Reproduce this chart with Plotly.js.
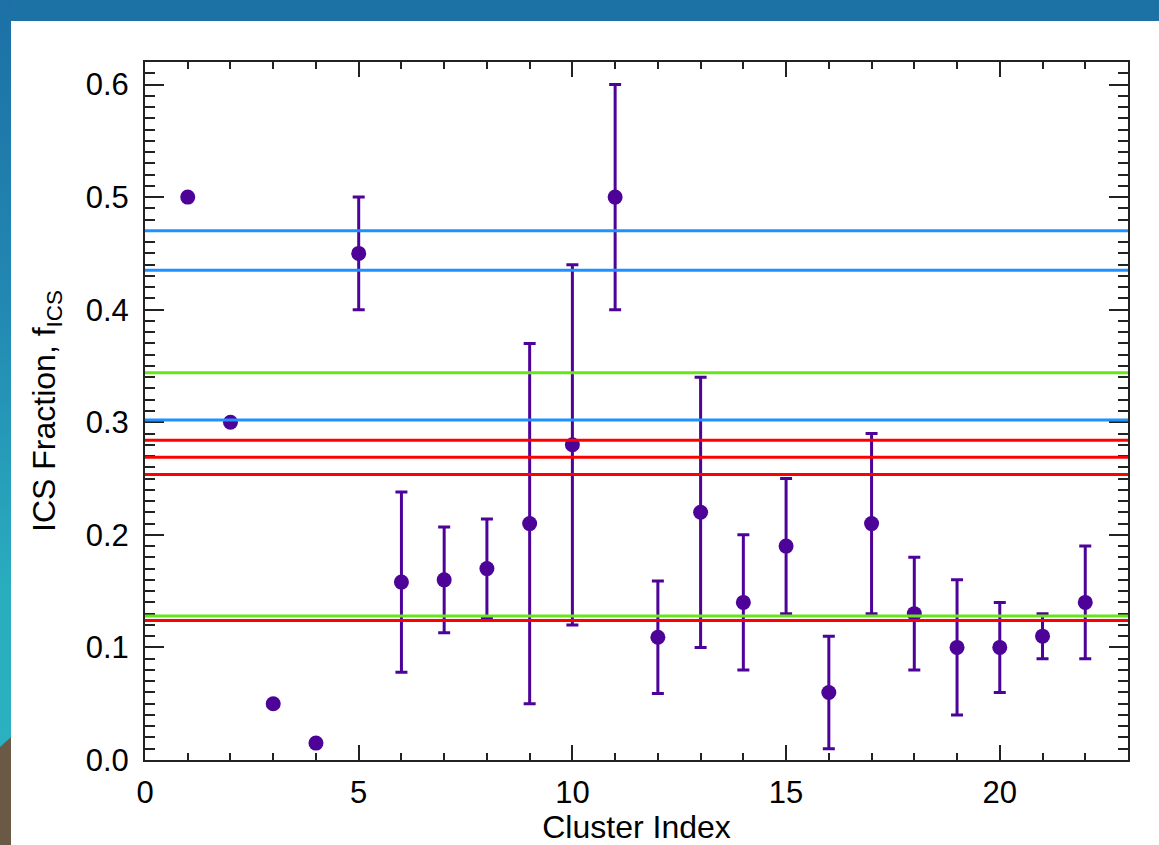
<!DOCTYPE html>
<html>
<head>
<meta charset="utf-8">
<script src="https://cdn.plot.ly/plotly-3.0.1.min.js"></script>
<style>
  html, body { margin:0; padding:0; width:1159px; height:845px; overflow:hidden; background:#ffffff; }
  #topband { position:absolute; left:0; top:0; width:1159px; height:21px; background:#1c71a5; }
  #leftband { position:absolute; left:0; top:0; width:11px; height:845px;
    background: linear-gradient(to bottom, #1c70a5 0px, #2288b2 300px, #2aaebf 600px, #2bb2c1 845px); }
  #brown { position:absolute; left:0; top:730px; width:11px; height:115px; background:#6a5a45;
    clip-path: polygon(0px 17px, 11px 7px, 11px 115px, 0px 115px); }
  #chart { position:absolute; left:0; top:0; width:1159px; height:845px; }
</style>
</head>
<body>
<div id="topband"></div>
<div id="leftband"></div>
<div id="brown"></div>
<div id="chart"></div>
<script>
// Cluster data
const clusterIndex = [1,2,3,4,5,6,7,8,9,10,11,12,13,14,15,16,17,18,19,20,21,22];
const icsFraction  = [0.50,0.30,0.05,0.015,0.45,0.158,0.16,0.17,0.21,0.28,0.50,0.109,0.22,0.14,0.19,0.06,0.21,0.13,0.10,0.10,0.11,0.14];
const upperBound   = [0.50,0.30,0.05,0.015,0.50,0.238,0.207,0.214,0.37,0.44,0.60,0.159,0.34,0.20,0.25,0.11,0.29,0.18,0.16,0.14,0.13,0.19];
const lowerBound   = [0.50,0.30,0.05,0.015,0.40,0.078,0.113,0.126,0.05,0.12,0.40,0.059,0.10,0.08,0.13,0.01,0.13,0.08,0.04,0.06,0.09,0.09];

// Horizontal reference levels
const blueLevels  = [0.470, 0.435, 0.302];
const greenLevels = [0.344, 0.128];
const redLevels   = [0.284, 0.269, 0.2535, 0.124];

const xTickVals = [0,5,10,15,20];
const yTickVals = [0.0,0.1,0.2,0.3,0.4,0.5,0.6];
const yTickText = ['0.0','0.1','0.2','0.3','0.4','0.5','0.6'];

const purple = '#4e0398';
const errUp = icsFraction.map((v,i) => upperBound[i] - v);
const errDn = icsFraction.map((v,i) => v - lowerBound[i]);

const trace = {
  x: clusterIndex, y: icsFraction, type:'scatter', mode:'markers',
  marker:{color:purple, size:15},
  error_y:{type:'data', symmetric:false, array:errUp, arrayminus:errDn,
           color:purple, thickness:3, width:6},
  hoverinfo:'x+y', showlegend:false
};

function hline(v, color){
  return {type:'line', xref:'paper', x0:0, x1:1, yref:'y', y0:v, y1:v,
          line:{color:color, width:3}, layer:'above'};
}
const shapes = [
  ...blueLevels.map(v => hline(v,'#1e90ff')),
  ...greenLevels.map(v => hline(v,'#66e619')),
  ...redLevels.map(v => hline(v,'#ff0000'))
];

const fontFam = 'Liberation Sans, Arial, Helvetica, sans-serif';
const layout = {
  width:1159, height:845,
  paper_bgcolor:'rgba(0,0,0,0)', plot_bgcolor:'#ffffff',
  margin:{l:145, r:31, t:62, b:85, pad:0},
  showlegend:false,
  font:{family:fontFam, color:'#000000', size:31},
  xaxis:{
    range:[0,23], tickvals:xTickVals, ticktext:xTickVals.map(String),
    ticks:'inside', ticklen:15, tickwidth:2, tickcolor:'#222',
    showline:true, linecolor:'#222', linewidth:2, mirror:'allticks',
    showgrid:false, zeroline:false,
    minor:{dtick:1, ticks:'inside', ticklen:7, tickwidth:2, tickcolor:'#222', showgrid:false},
    tickfont:{size:31, family:fontFam},
    ticklabelstandoff:4,
    title:{text:'Cluster Index', font:{size:32, family:fontFam}, standoff:0}
  },
  yaxis:{
    range:[0,0.62], tickvals:yTickVals, ticktext:yTickText,
    ticks:'inside', ticklen:19, tickwidth:2, tickcolor:'#222',
    showline:true, linecolor:'#222', linewidth:2, mirror:'allticks',
    showgrid:false, zeroline:false,
    minor:{dtick:0.01, ticks:'inside', ticklen:10, tickwidth:2, tickcolor:'#222', showgrid:false},
    tickfont:{size:31, family:fontFam},
    ticklabelstandoff:8,
    title:{text:'ICS Fraction, f<sub>ICS</sub>', font:{size:32, family:fontFam}, standoff:20}
  },
  shapes:shapes
};

Plotly.newPlot('chart', [trace], layout, {displayModeBar:false, staticPlot:true});
</script>
</body>
</html>
